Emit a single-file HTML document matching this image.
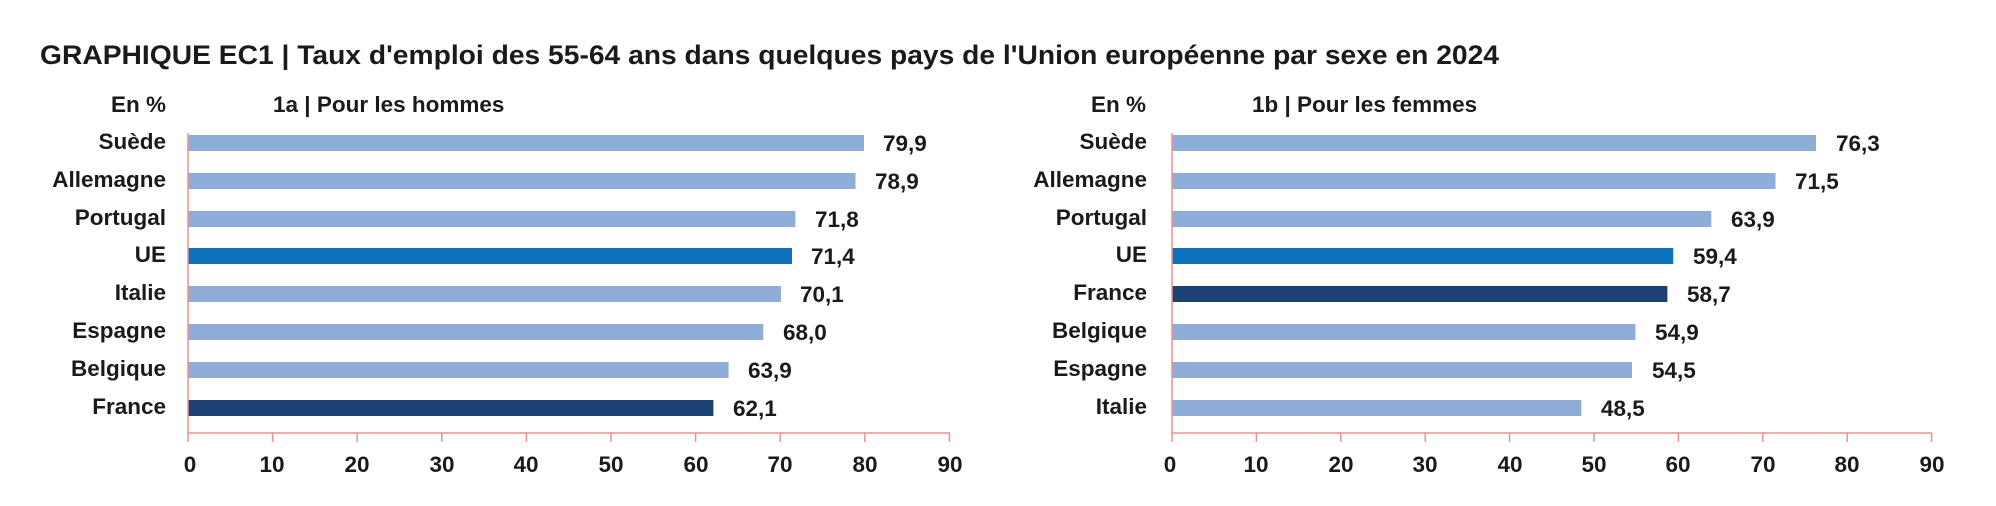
<!DOCTYPE html>
<html><head><meta charset="utf-8"><style>
html,body{margin:0;padding:0;background:#fff;}
svg{display:block;font-family:"Liberation Sans",sans-serif;font-weight:bold;fill:#1a1a1a;}
</style></head><body>
<svg width="1996" height="506" viewBox="0 0 1996 506" xmlns="http://www.w3.org/2000/svg">
<text x="40" y="64" font-size="27" textLength="1459" lengthAdjust="spacingAndGlyphs">GRAPHIQUE EC1 | Taux d'emploi des 55-64 ans dans quelques pays de l'Union européenne par sexe en 2024</text>

<!-- Left panel -->
<g font-size="22.5">
<text x="166" y="112" text-anchor="end">En %</text>
<text x="273" y="112">1a | Pour les hommes</text>
<g text-anchor="end">
<text x="166" y="149">Suède</text>
<text x="166" y="187">Allemagne</text>
<text x="166" y="225">Portugal</text>
<text x="166" y="262">UE</text>
<text x="166" y="300">Italie</text>
<text x="166" y="338">Espagne</text>
<text x="166" y="376">Belgique</text>
<text x="166" y="414">France</text>
</g>
<rect x="188" y="135" width="676" height="16" fill="#8fadd9"/>
<rect x="188" y="173" width="667.5" height="16" fill="#8fadd9"/>
<rect x="188" y="211" width="607.4" height="16" fill="#8fadd9"/>
<rect x="188" y="248" width="604" height="16" fill="#1071bb"/>
<rect x="188" y="286" width="593" height="16" fill="#8fadd9"/>
<rect x="188" y="324" width="575.3" height="16" fill="#8fadd9"/>
<rect x="188" y="362" width="540.6" height="16" fill="#8fadd9"/>
<rect x="188" y="400" width="525.4" height="16" fill="#1b4272"/>
<text x="883" y="151">79,9</text>
<text x="875" y="189">78,9</text>
<text x="815" y="227">71,8</text>
<text x="811" y="264">71,4</text>
<text x="800" y="302">70,1</text>
<text x="783" y="340">68,0</text>
<text x="748" y="378">63,9</text>
<text x="733" y="416">62,1</text>
<g stroke="#f0908a" stroke-width="1.5">
<line x1="188" y1="133" x2="188" y2="442"/>
<line x1="188" y1="433" x2="950" y2="433"/>
<line x1="272.6" y1="433" x2="272.6" y2="442"/><line x1="357.2" y1="433" x2="357.2" y2="442"/>
<line x1="441.8" y1="433" x2="441.8" y2="442"/><line x1="526.4" y1="433" x2="526.4" y2="442"/>
<line x1="611" y1="433" x2="611" y2="442"/><line x1="695.6" y1="433" x2="695.6" y2="442"/>
<line x1="780.2" y1="433" x2="780.2" y2="442"/><line x1="864.8" y1="433" x2="864.8" y2="442"/>
<line x1="949.4" y1="433" x2="949.4" y2="442"/>
</g>
<g text-anchor="middle">
<text x="190" y="472">0</text><text x="272" y="472">10</text><text x="357" y="472">20</text>
<text x="442" y="472">30</text><text x="526" y="472">40</text><text x="611" y="472">50</text>
<text x="696" y="472">60</text><text x="780" y="472">70</text><text x="865" y="472">80</text>
<text x="950" y="472">90</text>
</g>
</g>

<!-- Right panel -->
<g font-size="22.5">
<text x="1146" y="112" text-anchor="end">En %</text>
<text x="1252" y="112">1b | Pour les femmes</text>
<g text-anchor="end">
<text x="1147" y="149">Suède</text>
<text x="1147" y="187">Allemagne</text>
<text x="1147" y="225">Portugal</text>
<text x="1147" y="262">UE</text>
<text x="1147" y="300">France</text>
<text x="1147" y="338">Belgique</text>
<text x="1147" y="376">Espagne</text>
<text x="1147" y="414">Italie</text>
</g>
<rect x="1172" y="135" width="644" height="16" fill="#8fadd9"/>
<rect x="1172" y="173" width="603.5" height="16" fill="#8fadd9"/>
<rect x="1172" y="211" width="539.3" height="16" fill="#8fadd9"/>
<rect x="1172" y="248" width="501.3" height="16" fill="#1071bb"/>
<rect x="1172" y="286" width="495.4" height="16" fill="#1b4272"/>
<rect x="1172" y="324" width="463.4" height="16" fill="#8fadd9"/>
<rect x="1172" y="362" width="460" height="16" fill="#8fadd9"/>
<rect x="1172" y="400" width="409.3" height="16" fill="#8fadd9"/>
<text x="1836" y="151">76,3</text>
<text x="1795" y="189">71,5</text>
<text x="1731" y="227">63,9</text>
<text x="1693" y="264">59,4</text>
<text x="1687" y="302">58,7</text>
<text x="1655" y="340">54,9</text>
<text x="1652" y="378">54,5</text>
<text x="1601" y="416">48,5</text>
<g stroke="#f0908a" stroke-width="1.5">
<line x1="1172" y1="133" x2="1172" y2="442"/>
<line x1="1172" y1="433" x2="1932" y2="433"/>
<line x1="1256.4" y1="433" x2="1256.4" y2="442"/><line x1="1340.8" y1="433" x2="1340.8" y2="442"/>
<line x1="1425.2" y1="433" x2="1425.2" y2="442"/><line x1="1509.6" y1="433" x2="1509.6" y2="442"/>
<line x1="1594" y1="433" x2="1594" y2="442"/><line x1="1678.4" y1="433" x2="1678.4" y2="442"/>
<line x1="1762.8" y1="433" x2="1762.8" y2="442"/><line x1="1847.2" y1="433" x2="1847.2" y2="442"/>
<line x1="1931.6" y1="433" x2="1931.6" y2="442"/>
</g>
<g text-anchor="middle">
<text x="1170" y="472">0</text><text x="1256" y="472">10</text><text x="1341" y="472">20</text>
<text x="1425" y="472">30</text><text x="1510" y="472">40</text><text x="1594" y="472">50</text>
<text x="1678" y="472">60</text><text x="1763" y="472">70</text><text x="1847" y="472">80</text>
<text x="1932" y="472">90</text>
</g>
</g>
</svg>
</body></html>
